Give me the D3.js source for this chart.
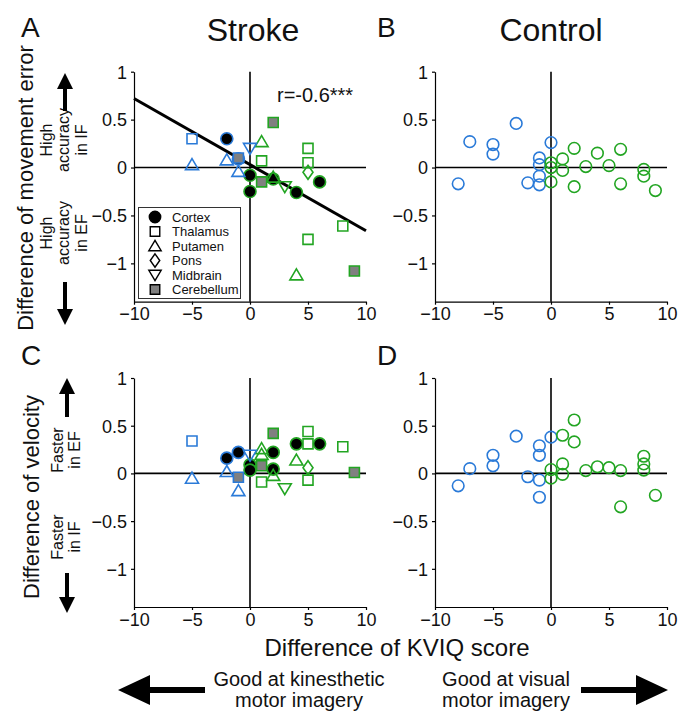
<!DOCTYPE html>
<html><head><meta charset="utf-8">
<script src="https://cdn.jsdelivr.net/npm/d3@7"></script>
<style>body{margin:0;background:#fff}svg{display:block}</style>
</head><body>
<svg id="c" width="685" height="718"></svg>
<script>
// ---------- DATA ----------
const xTicks = [-10, -5, 0, 5, 10];
const yTicks = [-1, -0.5, 0, 0.5, 1];
const regions = ["Cortex", "Thalamus", "Putamen", "Pons", "Midbrain", "Cerebellum"];
// group: K = better kinesthetic imagery (blue), V = better visual imagery (green)
// Stroke, difference of movement error: [KVIQ diff, value, group]
const errCortex     = [[-2,0.30,"K"],[-1,0.09,"K"],[0,-0.08,"V"],[0,-0.25,"V"],[2,-0.12,"V"],[4,-0.26,"V"],[6,-0.15,"V"]];
const errThalamus   = [[-5,0.30,"K"],[1,0.07,"V"],[5,0.20,"V"],[5,0.05,"V"],[5,-0.75,"V"],[8,-0.61,"V"]];
const errPutamen    = [[-5,0.03,"K"],[-2,0.08,"K"],[-1,-0.04,"K"],[1,0.27,"V"],[2,-0.10,"V"],[4,-1.12,"V"]];
const errPons       = [[5,-0.05,"V"]];
const errMidbrain   = [[0,0.20,"K"],[3,-0.20,"V"]];
const errCerebellum = [[-1,0.10,"K"],[1,-0.15,"V"],[2,0.47,"V"],[9,-1.08,"V"]];
// Stroke, difference of velocity
const velCortex     = [[-2,0.16,"K"],[-1,0.22,"K"],[0,0.09,"V"],[0,0.035,"V"],[2,0.22,"V"],[2,0.045,"V"],[4,0.31,"V"],[6,0.31,"V"]];
const velThalamus   = [[-5,0.34,"K"],[1,-0.09,"V"],[5,0.44,"V"],[5,0.31,"V"],[5,-0.07,"V"],[8,0.28,"V"]];
const velPutamen    = [[-5,-0.05,"K"],[-2,0.02,"K"],[-1,-0.18,"K"],[1,0.26,"V"],[1,0.20,"V"],[2,-0.02,"V"],[4,0.14,"V"]];
const velPons       = [[5,0.06,"V"]];
const velMidbrain   = [[0,0.19,"K"],[3,-0.16,"V"]];
const velCerebellum = [[-1,-0.04,"K"],[1,0.08,"V"],[2,0.42,"V"],[9,0.01,"V"]];
// Control, difference of movement error
const ctlErr = [[-8,-0.17,"K"],[-7,0.27,"K"],[-5,0.24,"K"],[-5,0.14,"K"],[-3,0.46,"K"],[-2,-0.16,"K"],[-1,0.10,"K"],[-1,0.03,"K"],[-1,-0.09,"K"],[-1,-0.18,"K"],[0,0.26,"K"],
  [0,0.05,"V"],[0,0.0,"V"],[0,-0.15,"V"],[1,0.09,"V"],[1,-0.03,"V"],[2,0.20,"V"],[2,-0.20,"V"],[3,0.01,"V"],[4,0.15,"V"],[5,0.02,"V"],[6,0.19,"V"],[6,-0.17,"V"],[8,-0.02,"V"],[8,-0.09,"V"],[9,-0.24,"V"]];
// Control, difference of velocity
const ctlVel = [[-8,-0.13,"K"],[-7,0.05,"K"],[-5,0.19,"K"],[-5,0.08,"K"],[-3,0.39,"K"],[-2,-0.035,"K"],[-1,0.29,"K"],[-1,0.19,"K"],[-1,-0.07,"K"],[-1,-0.25,"K"],[0,0.38,"K"],
  [0,0.04,"V"],[0,-0.05,"V"],[1,0.40,"V"],[1,0.10,"V"],[1,-0.01,"V"],[2,0.56,"V"],[2,0.33,"V"],[3,0.03,"V"],[4,0.07,"V"],[5,0.06,"V"],[6,0.03,"V"],[6,-0.35,"V"],[8,0.18,"V"],[8,0.10,"V"],[8,0.035,"V"],[9,-0.23,"V"]];
// regression line in panel A
const fitX = [-10, 10];
const fitY = [0.72, -0.66];
const fitLabel = "r=-0.6***";

// ---------- STYLE ----------
const FONT = "'Liberation Sans', Arial, sans-serif";
const BLUE = "#2a7ad8", GREEN = "#22a522", GRAY = "#808080";
const col = g => g === "K" ? BLUE : GREEN;
const shapes = {
  Cortex: d3.symbol(d3.symbolCircle, Math.PI * 36)(),
  Thalamus: "M-5,-5H5V5H-5Z",
  Putamen: "M0,-6L6.5,5L-6.5,5Z",
  Pons: "M0,-7L5,0L0,7L-5,0Z",
  Midbrain: "M0,6L6.5,-5L-6.5,-5Z",
  Cerebellum: "M-5,-5H5V5H-5Z"
};
const fills = {Cortex: "#000", Thalamus: "none", Putamen: "none", Pons: "none", Midbrain: "none", Cerebellum: GRAY};

const svg = d3.select("#c");
svg.append("rect").attr("width", 685).attr("height", 718).attr("fill", "#fff");

function panel(x0, x1, y0, y1) {
  const x = d3.scaleLinear().domain([-10, 10]).range([x0, x1]);
  const y = d3.scaleLinear().domain([-1.4, 1]).range([y1, y0]);
  const g = svg.append("g");
  const ax = g.append("g").attr("transform", `translate(0,${y1})`)
    .call(d3.axisBottom(x).tickValues(xTicks).tickSize(3).tickSizeOuter(0).tickPadding(3).tickFormat(d3.format("d")));
  const ay = g.append("g").attr("transform", `translate(${x0},0)`)
    .call(d3.axisLeft(y).tickValues(yTicks).tickSize(3).tickSizeOuter(0).tickPadding(4).tickFormat(d => d3.format("")(d)));
  [ax, ay].forEach(a => {
    a.selectAll("text").attr("font-family", FONT).attr("font-size", 18).attr("fill", "#111");
    a.selectAll("path,line").attr("stroke", "#000").attr("stroke-width", 1.2);
  });
  ay.selectAll("text").attr("dy", "0.35em");
  g.append("line").attr("x1", x(-10)).attr("x2", x(10)).attr("y1", y(0)).attr("y2", y(0)).attr("stroke", "#000").attr("stroke-width", 1.6);
  g.append("line").attr("x1", x(0)).attr("x2", x(0)).attr("y1", y(-1.4)).attr("y2", y(1)).attr("stroke", "#000").attr("stroke-width", 1.6);
  return {x, y, g};
}

function strokeMarks(p, sets) {
  regions.forEach((r, i) => {
    p.g.selectAll(null).data(sets[i]).join("path")
      .attr("d", shapes[r])
      .attr("transform", d => `translate(${p.x(d[0])},${p.y(d[1])})`)
      .attr("fill", fills[r]).attr("stroke", d => col(d[2])).attr("stroke-width", 1.6);
  });
}
function ctlMarks(p, data) {
  p.g.selectAll(null).data(data).join("circle")
    .attr("cx", d => p.x(d[0])).attr("cy", d => p.y(d[1])).attr("r", 5.8)
    .attr("fill", "none").attr("stroke", d => col(d[2])).attr("stroke-width", 1.6);
}

const pA = panel(134, 366, 71.7, 301.7);
const pB = panel(435, 667, 71.7, 301.7);
const pC = panel(134, 366, 378, 607);
const pD = panel(435, 667, 378, 607);

// regression line
pA.g.append("line").attr("x1", pA.x(fitX[0])).attr("y1", pA.y(fitY[0])).attr("x2", pA.x(fitX[1])).attr("y2", pA.y(fitY[1]))
  .attr("stroke", "#000").attr("stroke-width", 3);
strokeMarks(pA, [errCortex, errThalamus, errPutamen, errPons, errMidbrain, errCerebellum]);
strokeMarks(pC, [velCortex, velThalamus, velPutamen, velPons, velMidbrain, velCerebellum]);
ctlMarks(pB, ctlErr);
ctlMarks(pD, ctlVel);

pA.g.append("text").attr("x", 277).attr("y", 102).attr("font-family", FONT).attr("font-size", 20).attr("fill", "#111").text(fitLabel);

// legend
const lg = svg.append("g");
lg.append("rect").attr("x", 138.5).attr("y", 207.5).attr("width", 102).attr("height", 91).attr("fill", "#fff").attr("stroke", "#333").attr("stroke-width", 1);
regions.forEach((r, i) => {
  const yy = 217 + i * 14.5;
  lg.append("path").attr("d", shapes[r]).attr("transform", `translate(155,${yy}) scale(0.95)`)
    .attr("fill", fills[r]).attr("stroke", "#000").attr("stroke-width", 1.5);
  lg.append("text").attr("x", 172).attr("y", yy + 4.5).attr("font-family", FONT).attr("font-size", 13).attr("fill", "#111").text(r);
});

// text helpers
function txt(x, y, s, size, anchor = "middle", rot = 0) {
  return svg.append("text").attr("transform", `translate(${x},${y}) rotate(${rot})`)
    .attr("text-anchor", anchor).attr("font-family", FONT).attr("font-size", size).attr("fill", "#111").text(s);
}
function arrow(x1, y1, x2, y2, sw, hw, hl) {
  const dx = x2 - x1, dy = y2 - y1, L = Math.hypot(dx, dy), ux = dx / L, uy = dy / L, px = -uy, py = ux;
  const bx = x2 - ux * hl, by = y2 - uy * hl;
  const pts = [[x1 + px * sw / 2, y1 + py * sw / 2], [bx + px * sw / 2, by + py * sw / 2], [bx + px * hw / 2, by + py * hw / 2], [x2, y2],
    [bx - px * hw / 2, by - py * hw / 2], [bx - px * sw / 2, by - py * sw / 2], [x1 - px * sw / 2, y1 - py * sw / 2]];
  svg.append("path").attr("d", "M" + pts.map(p => p.join(",")).join("L") + "Z").attr("fill", "#000");
}

txt(253, 41, "Stroke", 32);
txt(551, 41, "Control", 32);
txt(21, 37, "A", 28, "start");
txt(377, 37, "B", 28, "start");
txt(21, 365, "C", 28, "start");
txt(377, 365, "D", 28, "start");

txt(33, 188, "Difference of movement error", 22, "middle", -90);
txt(52, 140, "High", 16, "middle", -90);
txt(69, 140, "accuracy", 16, "middle", -90);
txt(87, 140, "in IF", 16, "middle", -90);
txt(52, 233, "High", 16, "middle", -90);
txt(69, 233, "accuracy", 16, "middle", -90);
txt(87, 233, "in EF", 16, "middle", -90);
arrow(65, 111, 65, 73, 4, 16, 16);
arrow(65, 282, 65, 325, 4, 16, 16);

txt(39, 497, "Difference of velocity", 22, "middle", -90);
txt(63, 450, "Faster", 16, "middle", -90);
txt(80, 450, "in EF", 16, "middle", -90);
txt(63, 537, "Faster", 16, "middle", -90);
txt(80, 537, "in IF", 16, "middle", -90);
arrow(67, 417, 67, 378, 4, 16, 16);
arrow(67, 573, 67, 613, 4, 16, 16);

txt(397, 656, "Difference of KVIQ score", 24);
txt(299, 686, "Good at kinesthetic", 20);
txt(299, 707, "motor imagery", 20);
txt(506, 686, "Good at visual", 20);
txt(506, 707, "motor imagery", 20);
arrow(205, 690, 118, 690, 6, 30, 32);
arrow(581, 690, 668, 690, 6, 30, 32);
</script>
</body></html>
